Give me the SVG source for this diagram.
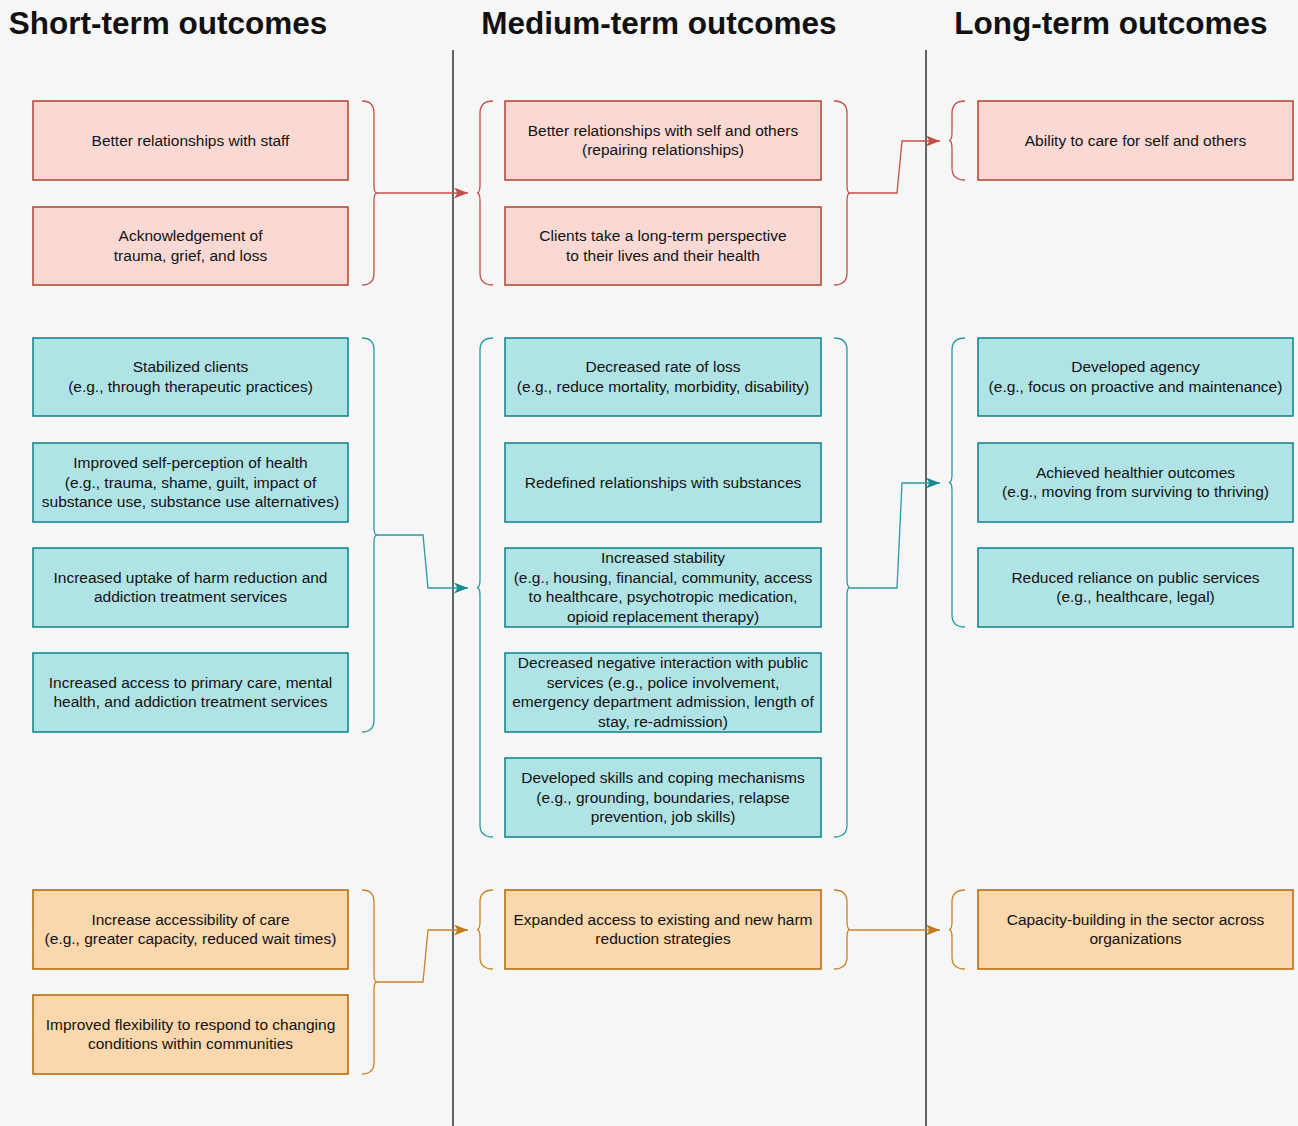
<svg xmlns="http://www.w3.org/2000/svg" width="1298" height="1126" viewBox="0 0 1298 1126">
<style>
.hdr{font-family:"Liberation Sans",Arial,Helvetica,sans-serif;font-weight:bold;font-size:31.5px;fill:#111;text-anchor:middle}
.t{font-family:"Liberation Sans",Arial,Helvetica,sans-serif;font-size:15.5px;fill:#111;text-anchor:middle}
.red rect{fill:#fad9d5;stroke:#ae4132;stroke-width:1.5}
.teal rect{fill:#b0e3e6;stroke:#0e8088;stroke-width:1.5}
.orange rect{fill:#fad7ac;stroke:#b46504;stroke-width:1.5}
.br{fill:none;stroke-width:1.3}
.c{fill:none;stroke-width:1.3}
.sr{stroke:#c0524a}
.st{stroke:#2a9aa1}
.so{stroke:#c98328}
.div{stroke:#333;stroke-width:1.5}
</style>
<defs>
<marker id="ar" markerUnits="userSpaceOnUse" markerWidth="15" markerHeight="11" refX="14" refY="5.5" orient="auto"><path d="M0,0 L14,5.5 L0,11 L3.5,5.5 Z" fill="#c0524a"/></marker>
<marker id="at" markerUnits="userSpaceOnUse" markerWidth="15" markerHeight="11" refX="14" refY="5.5" orient="auto"><path d="M0,0 L14,5.5 L0,11 L3.5,5.5 Z" fill="#1a8a91"/></marker>
<marker id="ao" markerUnits="userSpaceOnUse" markerWidth="15" markerHeight="11" refX="14" refY="5.5" orient="auto"><path d="M0,0 L14,5.5 L0,11 L3.5,5.5 Z" fill="#c07a1c"/></marker>
</defs>
<rect x="0" y="0" width="1298" height="1126" fill="#f6f6f6"/>

<g id="headers">
<text class="hdr" x="168" y="34">Short-term outcomes</text>
<text class="hdr" x="659" y="34">Medium-term outcomes</text>
<text class="hdr" x="1111" y="34">Long-term outcomes</text>
</g>
<g id="dividers">
<line class="div" x1="453" y1="50" x2="453" y2="1126"/>
<line class="div" x1="926" y1="50" x2="926" y2="1126"/>
</g>

<g id="connectors">
<path class="br sr" d="M362 101 Q374 101 374 113 L374 185 Q374 193 377 193 Q374 193 374 201 L374 273 Q374 285 362 285"/>
<path class="br sr" d="M493 101 Q480 101 480 113 L480 185 Q480 193 477 193 Q480 193 480 201 L480 273 Q480 285 493 285"/>
<path class="br sr" d="M834 101 Q847 101 847 113 L847 185 Q847 193 850 193 Q847 193 847 201 L847 273 Q847 285 834 285"/>
<path class="br sr" d="M965 101 Q952 101 952 113 L952 132.5 Q952 140.5 949 140.5 Q952 140.5 952 148.5 L952 168 Q952 180 965 180"/>

<path class="br st" d="M362 338 Q374 338 374 350 L374 527 Q374 535 377 535 Q374 535 374 543 L374 720 Q374 732 362 732"/>
<path class="br st" d="M493 338 Q480 338 480 350 L480 579.5 Q480 587.5 477 587.5 Q480 587.5 480 595.5 L480 825 Q480 837 493 837"/>
<path class="br st" d="M834 338 Q847 338 847 350 L847 579.5 Q847 587.5 850 587.5 Q847 587.5 847 595.5 L847 825 Q847 837 834 837"/>
<path class="br st" d="M965 338 Q952 338 952 350 L952 474.5 Q952 482.5 949 482.5 Q952 482.5 952 490.5 L952 615 Q952 627 965 627"/>

<path class="br so" d="M362 890 Q374 890 374 902 L374 974 Q374 982 377 982 Q374 982 374 990 L374 1062 Q374 1074 362 1074"/>
<path class="br so" d="M493 890 Q480 890 480 902 L480 921.5 Q480 929.5 477 929.5 Q480 929.5 480 937.5 L480 957 Q480 969 493 969"/>
<path class="br so" d="M834 890 Q847 890 847 902 L847 921.5 Q847 929.5 850 929.5 Q847 929.5 847 937.5 L847 957 Q847 969 834 969"/>
<path class="br so" d="M965 890 Q952 890 952 902 L952 921.5 Q952 929.5 949 929.5 Q952 929.5 952 937.5 L952 957 Q952 969 965 969"/>

<path class="c sr" d="M377 193 L468 193" marker-end="url(#ar)"/>
<path class="c sr" d="M850 193 L897 193 L902 141 L940 141" marker-end="url(#ar)"/>
<path class="c st" d="M377 535 L423 535 L428 588 L468 588" marker-end="url(#at)"/>
<path class="c st" d="M850 588 L897 588 L902 483 L940 483" marker-end="url(#at)"/>
<path class="c so" d="M377 982 L423 982 L428 930 L468 930" marker-end="url(#ao)"/>
<path class="c so" d="M850 930 L940 930" marker-end="url(#ao)"/>
</g>

<g id="s-red1" class="red"><rect x="33" y="101" width="315" height="79"/><text class="t" x="190.5" y="145.5">Better relationships with staff</text></g>
<g id="s-red2" class="red"><rect x="33" y="207" width="315" height="78"/><text class="t" y="241.25"><tspan x="190.5">Acknowledgement of</tspan><tspan x="190.5" dy="19.5">trauma, grief, and loss</tspan></text></g>
<g id="s-teal1" class="teal"><rect x="33" y="338" width="315" height="78"/><text class="t" y="372.25"><tspan x="190.5">Stabilized clients</tspan><tspan x="190.5" dy="19.5">(e.g., through therapeutic practices)</tspan></text></g>
<g id="s-teal2" class="teal"><rect x="33" y="443" width="315" height="79"/><text class="t" y="468"><tspan x="190.5">Improved self-perception of health</tspan><tspan x="190.5" dy="19.5">(e.g., trauma, shame, guilt, impact of</tspan><tspan x="190.5" dy="19.5">substance use, substance use alternatives)</tspan></text></g>
<g id="s-teal3" class="teal"><rect x="33" y="548" width="315" height="79"/><text class="t" y="582.75"><tspan x="190.5">Increased uptake of harm reduction and</tspan><tspan x="190.5" dy="19.5">addiction treatment services</tspan></text></g>
<g id="s-teal4" class="teal"><rect x="33" y="653" width="315" height="79"/><text class="t" y="687.75"><tspan x="190.5">Increased access to primary care, mental</tspan><tspan x="190.5" dy="19.5">health, and addiction treatment services</tspan></text></g>
<g id="s-orange1" class="orange"><rect x="33" y="890" width="315" height="79"/><text class="t" y="924.75"><tspan x="190.5">Increase accessibility of care</tspan><tspan x="190.5" dy="19.5">(e.g., greater capacity, reduced wait times)</tspan></text></g>
<g id="s-orange2" class="orange"><rect x="33" y="995" width="315" height="79"/><text class="t" y="1029.75"><tspan x="190.5">Improved flexibility to respond to changing</tspan><tspan x="190.5" dy="19.5">conditions within communities</tspan></text></g>

<g id="m-red1" class="red"><rect x="505" y="101" width="316" height="79"/><text class="t" y="135.75"><tspan x="663">Better relationships with self and others</tspan><tspan x="663" dy="19.5">(repairing relationships)</tspan></text></g>
<g id="m-red2" class="red"><rect x="505" y="207" width="316" height="78"/><text class="t" y="241.25"><tspan x="663">Clients take a long-term perspective</tspan><tspan x="663" dy="19.5">to their lives and their health</tspan></text></g>
<g id="m-teal1" class="teal"><rect x="505" y="338" width="316" height="78"/><text class="t" y="372.25"><tspan x="663">Decreased rate of loss</tspan><tspan x="663" dy="19.5">(e.g., reduce mortality, morbidity, disability)</tspan></text></g>
<g id="m-teal2" class="teal"><rect x="505" y="443" width="316" height="79"/><text class="t" x="663" y="487.5">Redefined relationships with substances</text></g>
<g id="m-teal3" class="teal"><rect x="505" y="548" width="316" height="79"/><text class="t" y="563.25"><tspan x="663">Increased stability</tspan><tspan x="663" dy="19.5">(e.g., housing, financial, community, access</tspan><tspan x="663" dy="19.5">to healthcare, psychotropic medication,</tspan><tspan x="663" dy="19.5">opioid replacement therapy)</tspan></text></g>
<g id="m-teal4" class="teal"><rect x="505" y="653" width="316" height="79"/><text class="t" y="668.25"><tspan x="663">Decreased negative interaction with public</tspan><tspan x="663" dy="19.5">services (e.g., police involvement,</tspan><tspan x="663" dy="19.5">emergency department admission, length of</tspan><tspan x="663" dy="19.5">stay, re-admission)</tspan></text></g>
<g id="m-teal5" class="teal"><rect x="505" y="758" width="316" height="79"/><text class="t" y="783"><tspan x="663">Developed skills and coping mechanisms</tspan><tspan x="663" dy="19.5">(e.g., grounding, boundaries, relapse</tspan><tspan x="663" dy="19.5">prevention, job skills)</tspan></text></g>
<g id="m-orange1" class="orange"><rect x="505" y="890" width="316" height="79"/><text class="t" y="924.75"><tspan x="663">Expanded access to existing and new harm</tspan><tspan x="663" dy="19.5">reduction strategies</tspan></text></g>

<g id="l-red1" class="red"><rect x="978" y="101" width="315" height="79"/><text class="t" x="1135.5" y="145.5">Ability to care for self and others</text></g>
<g id="l-teal1" class="teal"><rect x="978" y="338" width="315" height="78"/><text class="t" y="372.25"><tspan x="1135.5">Developed agency</tspan><tspan x="1135.5" dy="19.5">(e.g., focus on proactive and maintenance)</tspan></text></g>
<g id="l-teal2" class="teal"><rect x="978" y="443" width="315" height="79"/><text class="t" y="477.75"><tspan x="1135.5">Achieved healthier outcomes</tspan><tspan x="1135.5" dy="19.5">(e.g., moving from surviving to thriving)</tspan></text></g>
<g id="l-teal3" class="teal"><rect x="978" y="548" width="315" height="79"/><text class="t" y="582.75"><tspan x="1135.5">Reduced reliance on public services</tspan><tspan x="1135.5" dy="19.5">(e.g., healthcare, legal)</tspan></text></g>
<g id="l-orange1" class="orange"><rect x="978" y="890" width="315" height="79"/><text class="t" y="924.75"><tspan x="1135.5">Capacity-building in the sector across</tspan><tspan x="1135.5" dy="19.5">organizations</tspan></text></g>
</svg>
